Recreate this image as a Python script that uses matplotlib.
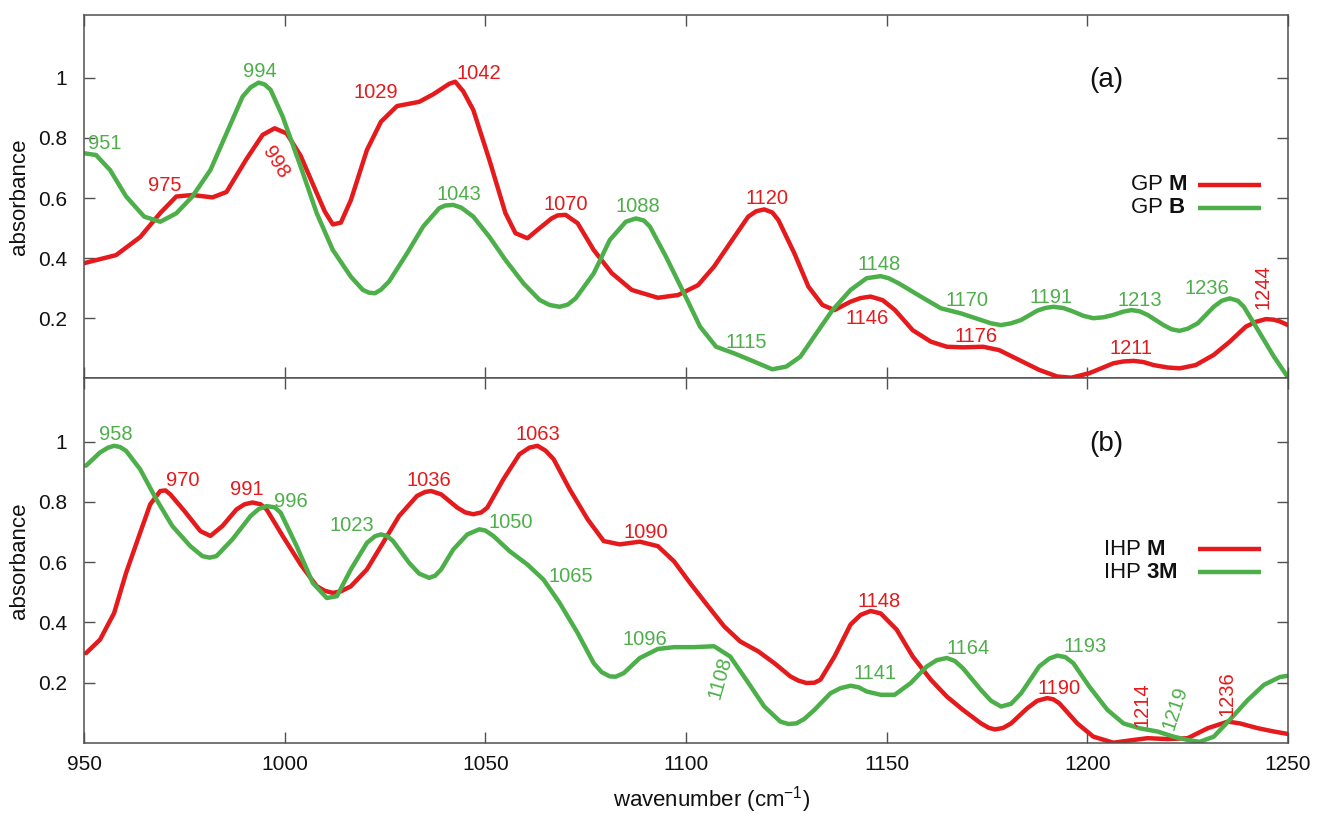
import matplotlib
matplotlib.use('Agg')
import matplotlib.pyplot as plt

plt.rcParams['font.family'] = ['Liberation Sans', 'DejaVu Sans']
plt.rcParams['mathtext.fontset'] = 'custom'
plt.rcParams['mathtext.rm'] = 'Liberation Sans'
plt.rcParams['mathtext.bf'] = 'Liberation Sans:bold'
plt.rcParams['mathtext.it'] = 'Liberation Sans:italic'

RED = '#e41a1c'
GREEN = '#4daf4a'

# ---------------- data: panel (a) ----------------
gpm_x = [950, 958, 964, 969, 973, 977, 982, 985.5, 990.5, 994.5,
         997.5, 1000.5, 1004, 1008, 1010, 1012, 1014, 1016.5, 1020.5, 1024,
         1028, 1033.5, 1037, 1041, 1042.5, 1044.5, 1047, 1051, 1055, 1057.5,
         1060.5, 1063, 1066.5, 1068, 1070, 1073, 1077, 1081.5, 1086.5, 1093,
         1098, 1103, 1107, 1111.5, 1115.5, 1117.5, 1119.5, 1121.5, 1123, 1127,
         1130.5, 1134, 1137, 1141, 1143.5, 1146, 1149, 1152, 1156.5, 1161,
         1165, 1169, 1174, 1178, 1183, 1188, 1192.5, 1196, 1200.5, 1206.5,
         1209, 1211.5, 1214, 1216.5, 1220, 1223, 1227, 1231.5, 1235.5, 1239.5,
         1242, 1244.5, 1246.5, 1248, 1250]
gpm_y = [0.383, 0.41, 0.47, 0.55, 0.605, 0.61, 0.602, 0.62, 0.73, 0.81,
         0.832, 0.815, 0.74, 0.616, 0.555, 0.512, 0.518, 0.593, 0.76, 0.854,
         0.906, 0.92, 0.945, 0.98, 0.987, 0.955, 0.893, 0.727, 0.55, 0.483,
         0.466, 0.494, 0.532, 0.542, 0.544, 0.516, 0.427, 0.35, 0.294, 0.268,
         0.277, 0.31, 0.372, 0.46, 0.538, 0.556, 0.562, 0.552, 0.527, 0.416,
         0.305, 0.244, 0.227, 0.255, 0.267, 0.272, 0.26, 0.228, 0.16, 0.122,
         0.105, 0.103, 0.105, 0.094, 0.061, 0.028, 0.006, 0.002, 0.017, 0.05,
         0.056, 0.058, 0.054, 0.044, 0.036, 0.033, 0.044, 0.078, 0.122, 0.172,
         0.188, 0.197, 0.195, 0.189, 0.177]

gpb_x = [950, 953, 956.5, 960.5, 965, 969, 973, 977, 981.5, 985.5,
         989.5, 991.5, 993.5, 995, 996.5, 999.5, 1004, 1008, 1012, 1016.5,
         1019.5, 1021, 1022.5, 1024, 1026, 1030.5, 1034.5, 1038.5, 1040, 1042,
         1044, 1047, 1051, 1055, 1059.5, 1063.5, 1066, 1068.5, 1070.5, 1072.5,
         1077, 1081, 1085, 1087.5, 1089.5, 1091, 1095, 1099.5, 1103.5, 1107.5,
         1112, 1116, 1121.5, 1125, 1128.5, 1132.5, 1136.5, 1141, 1145, 1148.5,
         1150.5, 1153, 1158.5, 1163.5, 1168.5, 1173.5, 1176, 1178.5, 1181, 1183.5,
         1187.5, 1189.5, 1191.5, 1194, 1196.5, 1199, 1201.5, 1204, 1206.5, 1209,
         1211, 1213, 1215, 1219, 1221, 1223, 1225, 1227.5, 1231.5, 1233.5,
         1235.5, 1237.5, 1239, 1242.5, 1246.5, 1250]
gpb_y = [0.749, 0.743, 0.693, 0.605, 0.538, 0.521, 0.549, 0.605, 0.693, 0.815,
         0.937, 0.968, 0.984, 0.978, 0.96, 0.871, 0.704, 0.549, 0.427, 0.338,
         0.294, 0.285, 0.283, 0.295, 0.322, 0.416, 0.505, 0.566, 0.575, 0.577,
         0.568, 0.538, 0.471, 0.394, 0.316, 0.261, 0.244, 0.238, 0.245, 0.266,
         0.349, 0.46, 0.521, 0.532, 0.525, 0.505, 0.405, 0.283, 0.172, 0.105,
         0.083, 0.061, 0.03, 0.039, 0.072, 0.15, 0.227, 0.294, 0.333, 0.34,
         0.333, 0.316, 0.272, 0.233, 0.216, 0.194, 0.183, 0.177, 0.183, 0.194,
         0.225, 0.234, 0.238, 0.234, 0.222, 0.208, 0.2, 0.203, 0.211, 0.222,
         0.227, 0.223, 0.211, 0.177, 0.163, 0.158, 0.165, 0.183, 0.238, 0.258,
         0.266, 0.258, 0.238, 0.161, 0.072, 0.003]

# ---------------- data: panel (b) ----------------
ihpm_x = [950.5, 954, 957.5, 960.5, 964, 966.5, 969, 970.3, 971.5, 975,
          979, 981.5, 984.5, 988, 990, 992, 994, 995.5, 999.5, 1004,
          1008, 1010, 1012, 1014, 1016.5, 1020.5, 1024.5, 1028.5, 1033, 1035,
          1036.5, 1039, 1043, 1045, 1047, 1049, 1050.5, 1054.5, 1058.5, 1061,
          1063, 1065, 1067, 1071, 1075.5, 1079.5, 1083.5, 1088.5, 1093, 1097,
          1101, 1105.5, 1109.5, 1113.5, 1118, 1122, 1126, 1128, 1130, 1132,
          1133.5, 1137, 1141, 1143.5, 1146, 1148.5, 1152.5, 1156.5, 1161, 1165,
          1169, 1173.5, 1175.5, 1177, 1179, 1181, 1185, 1187.5, 1190, 1191.5,
          1193, 1197.5, 1201.5, 1206.5, 1211.5, 1215, 1220, 1225, 1230, 1235,
          1238, 1242.5, 1246.5, 1250]
ihpm_y = [0.298, 0.343, 0.431, 0.565, 0.698, 0.792, 0.836, 0.838, 0.825, 0.77,
          0.703, 0.687, 0.72, 0.775, 0.792, 0.798, 0.792, 0.775, 0.687, 0.592,
          0.52, 0.505, 0.498, 0.503, 0.52, 0.576, 0.664, 0.753, 0.82, 0.833,
          0.836, 0.825, 0.781, 0.765, 0.759, 0.765, 0.781, 0.875, 0.958, 0.98,
          0.986, 0.97, 0.942, 0.842, 0.742, 0.67, 0.659, 0.668, 0.653, 0.603,
          0.531, 0.454, 0.387, 0.337, 0.304, 0.265, 0.221, 0.207, 0.199, 0.2,
          0.21, 0.287, 0.393, 0.425, 0.438, 0.43, 0.376, 0.287, 0.21, 0.154,
          0.11, 0.065, 0.05, 0.045, 0.05, 0.065, 0.115, 0.14, 0.149, 0.145,
          0.132, 0.065, 0.021, 0.001, 0.01, 0.016, 0.013, 0.016, 0.049, 0.071,
          0.065, 0.049, 0.038, 0.03]

ihp3m_x = [950.5, 954, 956, 957.5, 959, 960.5, 964, 968, 972, 976.5,
           979.5, 981.3, 983, 987, 991.5, 993.5, 995.5, 997.5, 999, 1003,
           1007, 1010.5, 1013, 1016.5, 1020.5, 1022.5, 1024, 1025.5, 1027, 1031,
           1033.5, 1036, 1037.5, 1039, 1042, 1045.5, 1048.5, 1050, 1052, 1056,
           1060.5, 1064.5, 1068.5, 1073, 1077, 1079, 1081, 1082.5, 1084.5, 1088.5,
           1093, 1097, 1102, 1107, 1111, 1115, 1119.5, 1123.5, 1125.5, 1127.5,
           1129.5, 1132, 1136, 1138.5, 1141, 1143, 1145, 1148.5, 1152, 1156,
           1160, 1162.5, 1165, 1167, 1169, 1173.5, 1176, 1178.5, 1181, 1183.5,
           1188, 1190.5, 1192.5, 1194.5, 1196.5, 1200.5, 1205, 1209, 1213, 1217.5,
           1221.5, 1225, 1228, 1231.5, 1235.5, 1240, 1244, 1248, 1250]
ihp3m_y = [0.92, 0.964, 0.98, 0.986, 0.982, 0.969, 0.908, 0.809, 0.72, 0.653,
           0.62, 0.615, 0.62, 0.676, 0.753, 0.776, 0.786, 0.782, 0.764, 0.653,
           0.531, 0.481, 0.487, 0.576, 0.664, 0.686, 0.692, 0.687, 0.67, 0.598,
           0.562, 0.548, 0.555, 0.576, 0.642, 0.692, 0.709, 0.705, 0.687, 0.637,
           0.592, 0.542, 0.465, 0.365, 0.265, 0.235, 0.221, 0.22, 0.232, 0.282,
           0.312, 0.318, 0.318, 0.321, 0.287, 0.21, 0.121, 0.071, 0.063, 0.065,
           0.08, 0.11, 0.165, 0.182, 0.19, 0.185, 0.171, 0.16, 0.16, 0.199,
           0.254, 0.275, 0.282, 0.272, 0.248, 0.176, 0.14, 0.121, 0.13, 0.165,
           0.254, 0.28, 0.29, 0.285, 0.265, 0.187, 0.11, 0.065, 0.049, 0.038,
           0.021, 0.01, 0.004, 0.021, 0.077, 0.143, 0.193, 0.219, 0.223]

# peak labels
labels_a = ['951', '994', '975', '998', '1029', '1042', '1043', '1070', '1088', '1120',
            '1115', '1146', '1148', '1170', '1176', '1191', '1211', '1213', '1236', '1244']
labels_b = ['958', '970', '991', '996', '1023', '1036', '1063', '1050', '1090', '1065',
            '1096', '1108', '1141', '1148', '1164', '1193', '1190', '1214', '1219', '1236']

# label placement (x, y, colour, rotation) -- layout, not data
place_a = [(955.2, 0.78, GREEN, 0), (993.9, 1.02, GREEN, 0), (970.2, 0.64, RED, 0),
           (997.8, 0.717, RED, -58), (1022.8, 0.95, RED, 0), (1048.3, 1.013, RED, 0),
           (1043.3, 0.61, GREEN, 0), (1070.1, 0.58, RED, 0), (1088.1, 0.571, GREEN, 0),
           (1120.1, 0.599, RED, 0), (1115.1, 0.118, GREEN, 0), (1145.2, 0.2, RED, 0),
           (1148.1, 0.379, GREEN, 0), (1170.1, 0.26, GREEN, 0), (1172.3, 0.138, RED, 0),
           (1190.9, 0.268, GREEN, 0), (1210.8, 0.1, RED, 0), (1213.1, 0.26, GREEN, 0),
           (1229.8, 0.3, GREEN, 0), (1243.7, 0.305, RED, 90)]
place_b = [(958, 1.022, GREEN, 0), (974.6, 0.872, RED, 0), (990.5, 0.842, RED, 0),
           (1001.5, 0.801, GREEN, 0), (1016.7, 0.72, GREEN, 0), (1036, 0.87, RED, 0),
           (1063, 1.022, RED, 0), (1056.3, 0.731, GREEN, 0), (1090, 0.7, RED, 0),
           (1071.3, 0.553, GREEN, 0), (1089.8, 0.343, GREEN, 0), (1108.5, 0.216, GREEN, 74),
           (1147.1, 0.23, GREEN, 0), (1148.1, 0.471, RED, 0), (1170.4, 0.312, GREEN, 0),
           (1199.4, 0.32, GREEN, 0), (1193, 0.182, RED, 0), (1213.5, 0.126, RED, 90),
           (1221.9, 0.115, GREEN, 72), (1234.7, 0.165, RED, 90)]

xticks = [950, 1000, 1050, 1100, 1150, 1200, 1250]
yticks = [0.2, 0.4, 0.6, 0.8, 1.0]
ytick_labels = ['0.2', '0.4', '0.6', '0.8', '1']

W, H = 1319, 814
fig = plt.figure(figsize=(W / 100, H / 100), dpi=100)
L, Rr = 84 / W, 1288 / W
axa = fig.add_axes([L, 1 - 378.3 / H, Rr - L, (378.3 - 14.7) / H])
axb = fig.add_axes([L, 1 - 743 / H, Rr - L, (743 - 378.3) / H])

SPINE = '#505050'

def style(ax, show_x):
    ax.set_xlim(950, 1250)
    ax.set_ylim(0, 1.21)
    ax.set_xticks(xticks)
    ax.set_yticks(yticks)
    ax.set_yticklabels(ytick_labels)
    ax.tick_params(direction='in', length=8, width=1, color=SPINE,
                   top=True, right=True, labelsize=15, labelcolor='#111111')
    ax.tick_params(axis='y', pad=12)
    ax.tick_params(axis='x', pad=9, labelbottom=show_x)
    for s in ax.spines.values():
        s.set_color(SPINE)
        s.set_linewidth(1.1)

style(axa, False)
style(axb, True)

lw = 3.2
kw = dict(lw=lw, solid_joinstyle='round', solid_capstyle='round')
axa.plot(gpm_x, gpm_y, color=RED, **kw)
axa.plot(gpb_x, gpb_y, color=GREEN, **kw)
axb.plot(ihpm_x, ihpm_y, color=RED, **kw)
axb.plot(ihp3m_x, ihp3m_y, color=GREEN, **kw)

for ax, labs, places in ((axa, labels_a, place_a), (axb, labels_b, place_b)):
    for t, (x, y, c, r) in zip(labs, places):
        ax.text(x, y, t, color=c, fontsize=14.5, ha='center', va='center',
                rotation=r, rotation_mode='anchor')

# panel tags
axa.text(0.8494, 0.821, '(a)', transform=axa.transAxes, fontsize=20,
         ha='center', va='center', color='#111111')
axb.text(0.8494, 0.821, '(b)', transform=axb.transAxes, fontsize=20,
         ha='center', va='center', color='#111111')

# legends (drawn manually, gnuplot style)
def legend(ax, entries, xtext, ys):
    for (txt, c), y in zip(entries, ys):
        ax.text(xtext, y, txt, transform=ax.transAxes, fontsize=16,
                ha='left', va='center', color='#111111')
        ax.plot([0.925, 0.9776], [y, y], transform=ax.transAxes, color=c,
                lw=lw, solid_capstyle='butt')

legend(axa, [('GP $\\mathbf{M}$', RED), ('GP $\\mathbf{B}$', GREEN)], 0.8688, [0.532, 0.469])
legend(axb, [('IHP $\\mathbf{M}$', RED), ('IHP $\\mathbf{3M}$', GREEN)], 0.846, [0.531, 0.468])

fig.text(20 / W, 1 - 196.5 / H, 'absorbance', rotation=90, fontsize=16,
         ha='center', va='center', color='#111111')
fig.text(20 / W, 1 - 560.5 / H, 'absorbance', rotation=90, fontsize=16,
         ha='center', va='center', color='#111111')
fig.text(712 / W, 1 - 800 / H, 'wavenumber (cm$^{-1}$)', fontsize=16,
         ha='center', va='center', color='#111111')

fig.savefig('out.png', dpi=100)
